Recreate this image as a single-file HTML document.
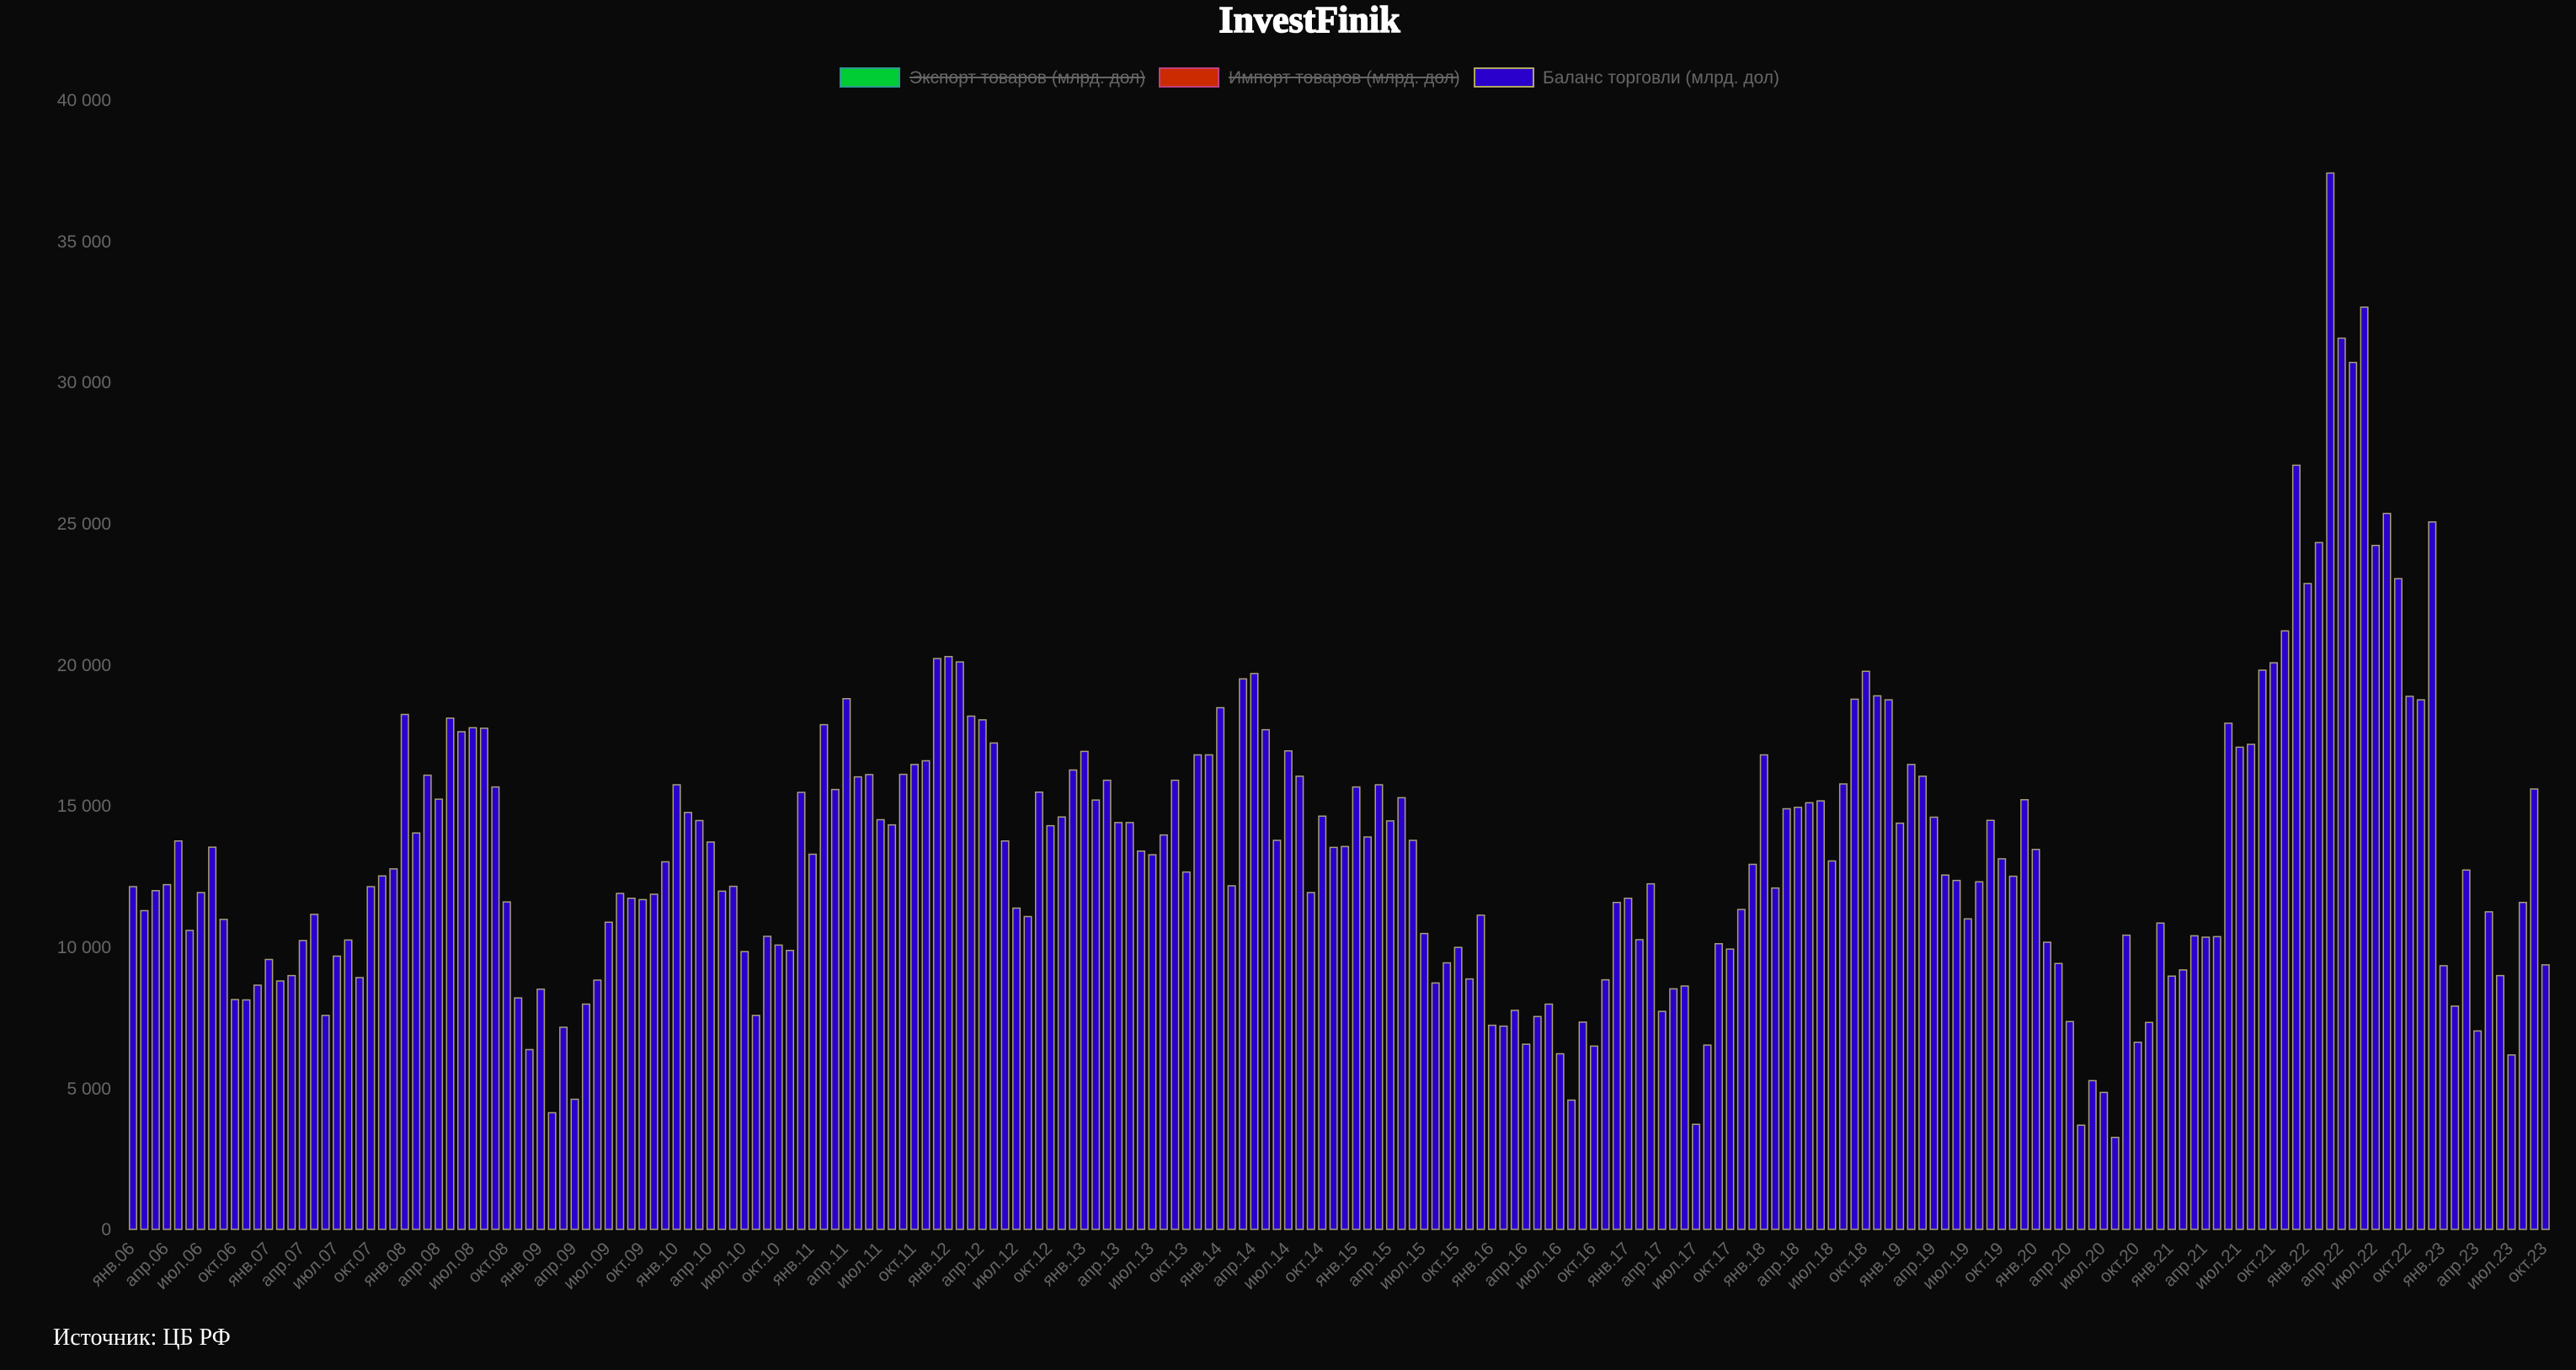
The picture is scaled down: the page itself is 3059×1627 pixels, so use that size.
<!DOCTYPE html>
<html><head><meta charset="utf-8"><style>
html,body{margin:0;padding:0;background:#0a0a0a;}
svg{display:block;}
#b rect{vector-effect:non-scaling-stroke;}
</style></head><body>
<svg width="3059" height="1627" viewBox="0 0 3059 1627" xmlns="http://www.w3.org/2000/svg">
<rect width="3059" height="1627" fill="#0a0a0a"/>
<text x="1555" y="38" text-anchor="middle" font-family="Liberation Serif, serif" font-weight="900" font-size="44" fill="#fff" stroke="#fff" stroke-width="1.5">InvestFinik</text>
<g font-family="Liberation Sans, sans-serif" font-size="21" fill="#666">
<rect x="998" y="81" width="70" height="22" fill="#00cc33" stroke="#2a9d8f" stroke-width="2"/>
<text x="1080" y="99">Экспорт товаров (млрд. дол)</text>
<line x1="1080" y1="92" x2="1360" y2="92" stroke="#666" stroke-width="2"/>
<rect x="1377" y="81" width="70" height="22" fill="#cc2a00" stroke="#c04080" stroke-width="2"/>
<text x="1459" y="99">Импорт товаров (млрд. дол)</text>
<line x1="1459" y1="92" x2="1732" y2="92" stroke="#666" stroke-width="2"/>
<rect x="1751" y="81" width="70" height="22" fill="#2a00cc" stroke="#b0a860" stroke-width="2"/>
<text x="1832" y="99">Баланс торговли (млрд. дол)</text>
</g>
<g font-family="Liberation Sans, sans-serif" font-size="21" fill="#666" text-anchor="end">
<text x="132" y="1467">0</text>
<text x="132" y="1300">5 000</text>
<text x="132" y="1132">10 000</text>
<text x="132" y="964">15 000</text>
<text x="132" y="797">20 000</text>
<text x="132" y="629">25 000</text>
<text x="132" y="461">30 000</text>
<text x="132" y="294">35 000</text>
<text x="132" y="126">40 000</text>
</g>
<g id="b" transform="translate(151.3,1460) scale(13.45,-33.525)" fill="#2a00cc" stroke="#a8a07a" stroke-width="1.5">
<rect x="0.18" width="0.63" height="12.14"/><rect x="1.18" width="0.63" height="11.29"/><rect x="2.18" width="0.63" height="12.0"/><rect x="3.18" width="0.63" height="12.21"/><rect x="4.18" width="0.63" height="13.76"/><rect x="5.18" width="0.63" height="10.59"/><rect x="6.18" width="0.63" height="11.93"/><rect x="7.18" width="0.63" height="13.54"/><rect x="8.18" width="0.63" height="10.98"/><rect x="9.18" width="0.63" height="8.14"/>
<rect x="10.18" width="0.63" height="8.13"/><rect x="11.18" width="0.63" height="8.65"/><rect x="12.18" width="0.63" height="9.56"/><rect x="13.18" width="0.63" height="8.8"/><rect x="14.18" width="0.63" height="8.99"/><rect x="15.18" width="0.63" height="10.23"/><rect x="16.18" width="0.63" height="11.16"/><rect x="17.18" width="0.63" height="7.58"/><rect x="18.18" width="0.63" height="9.68"/><rect x="19.18" width="0.63" height="10.25"/>
<rect x="20.18" width="0.63" height="8.92"/><rect x="21.18" width="0.63" height="12.14"/><rect x="22.18" width="0.63" height="12.52"/><rect x="23.18" width="0.63" height="12.77"/><rect x="24.18" width="0.63" height="18.24"/><rect x="25.18" width="0.63" height="14.04"/><rect x="26.18" width="0.63" height="16.09"/><rect x="27.18" width="0.63" height="15.24"/><rect x="28.18" width="0.63" height="18.11"/><rect x="29.18" width="0.63" height="17.63"/>
<rect x="30.18" width="0.63" height="17.77"/><rect x="31.18" width="0.63" height="17.75"/><rect x="32.18" width="0.63" height="15.67"/><rect x="33.18" width="0.63" height="11.6"/><rect x="34.18" width="0.63" height="8.2"/><rect x="35.18" width="0.63" height="6.37"/><rect x="36.18" width="0.63" height="8.51"/><rect x="37.18" width="0.63" height="4.13"/><rect x="38.18" width="0.63" height="7.16"/><rect x="39.18" width="0.63" height="4.61"/>
<rect x="40.18" width="0.63" height="7.98"/><rect x="41.18" width="0.63" height="8.83"/><rect x="42.18" width="0.63" height="10.88"/><rect x="43.18" width="0.63" height="11.9"/><rect x="44.18" width="0.63" height="11.73"/><rect x="45.18" width="0.63" height="11.68"/><rect x="46.18" width="0.63" height="11.87"/><rect x="47.18" width="0.63" height="13.02"/><rect x="48.18" width="0.63" height="15.75"/><rect x="49.18" width="0.63" height="14.77"/>
<rect x="50.18" width="0.63" height="14.48"/><rect x="51.18" width="0.63" height="13.72"/><rect x="52.18" width="0.63" height="11.98"/><rect x="53.18" width="0.63" height="12.15"/><rect x="54.18" width="0.63" height="9.84"/><rect x="55.18" width="0.63" height="7.58"/><rect x="56.18" width="0.63" height="10.38"/><rect x="57.18" width="0.63" height="10.07"/><rect x="58.18" width="0.63" height="9.88"/><rect x="59.18" width="0.63" height="15.48"/>
<rect x="60.18" width="0.63" height="13.29"/><rect x="61.18" width="0.63" height="17.88"/><rect x="62.18" width="0.63" height="15.58"/><rect x="63.18" width="0.63" height="18.8"/><rect x="64.18" width="0.63" height="16.03"/><rect x="65.18" width="0.63" height="16.11"/><rect x="66.18" width="0.63" height="14.51"/><rect x="67.18" width="0.63" height="14.33"/><rect x="68.18" width="0.63" height="16.12"/><rect x="69.18" width="0.63" height="16.47"/>
<rect x="70.18" width="0.63" height="16.6"/><rect x="71.18" width="0.63" height="20.22"/><rect x="72.18" width="0.63" height="20.29"/><rect x="73.18" width="0.63" height="20.1"/><rect x="74.18" width="0.63" height="18.18"/><rect x="75.18" width="0.63" height="18.05"/><rect x="76.18" width="0.63" height="17.23"/><rect x="77.18" width="0.63" height="13.76"/><rect x="78.18" width="0.63" height="11.38"/><rect x="79.18" width="0.63" height="11.08"/>
<rect x="80.18" width="0.63" height="15.49"/><rect x="81.18" width="0.63" height="14.3"/><rect x="82.18" width="0.63" height="14.61"/><rect x="83.18" width="0.63" height="16.27"/><rect x="84.18" width="0.63" height="16.93"/><rect x="85.18" width="0.63" height="15.21"/><rect x="86.18" width="0.63" height="15.91"/><rect x="87.18" width="0.63" height="14.41"/><rect x="88.18" width="0.63" height="14.41"/><rect x="89.18" width="0.63" height="13.4"/>
<rect x="90.18" width="0.63" height="13.27"/><rect x="91.18" width="0.63" height="13.97"/><rect x="92.18" width="0.63" height="15.91"/><rect x="93.18" width="0.63" height="12.66"/><rect x="94.18" width="0.63" height="16.81"/><rect x="95.18" width="0.63" height="16.81"/><rect x="96.18" width="0.63" height="18.48"/><rect x="97.18" width="0.63" height="12.17"/><rect x="98.18" width="0.63" height="19.5"/><rect x="99.18" width="0.63" height="19.69"/>
<rect x="100.18" width="0.63" height="17.7"/><rect x="101.18" width="0.63" height="13.78"/><rect x="102.18" width="0.63" height="16.95"/><rect x="103.18" width="0.63" height="16.05"/><rect x="104.18" width="0.63" height="11.93"/><rect x="105.18" width="0.63" height="14.64"/><rect x="106.18" width="0.63" height="13.53"/><rect x="107.18" width="0.63" height="13.56"/><rect x="108.18" width="0.63" height="15.67"/><rect x="109.18" width="0.63" height="13.9"/>
<rect x="110.18" width="0.63" height="15.75"/><rect x="111.18" width="0.63" height="14.47"/><rect x="112.18" width="0.63" height="15.29"/><rect x="113.18" width="0.63" height="13.78"/><rect x="114.18" width="0.63" height="10.48"/><rect x="115.18" width="0.63" height="8.73"/><rect x="116.18" width="0.63" height="9.44"/><rect x="117.18" width="0.63" height="9.99"/><rect x="118.18" width="0.63" height="8.87"/><rect x="119.18" width="0.63" height="11.13"/>
<rect x="120.18" width="0.63" height="7.23"/><rect x="121.18" width="0.63" height="7.2"/><rect x="122.18" width="0.63" height="7.76"/><rect x="123.18" width="0.63" height="6.56"/><rect x="124.18" width="0.63" height="7.54"/><rect x="125.18" width="0.63" height="7.98"/><rect x="126.18" width="0.63" height="6.22"/><rect x="127.18" width="0.63" height="4.58"/><rect x="128.18" width="0.63" height="7.34"/><rect x="129.18" width="0.63" height="6.49"/>
<rect x="130.18" width="0.63" height="8.84"/><rect x="131.18" width="0.63" height="11.58"/><rect x="132.18" width="0.63" height="11.73"/><rect x="133.18" width="0.63" height="10.26"/><rect x="134.18" width="0.63" height="12.24"/><rect x="135.18" width="0.63" height="7.72"/><rect x="136.18" width="0.63" height="8.52"/><rect x="137.18" width="0.63" height="8.62"/><rect x="138.18" width="0.63" height="3.72"/><rect x="139.18" width="0.63" height="6.53"/>
<rect x="140.18" width="0.63" height="10.12"/><rect x="141.18" width="0.63" height="9.93"/><rect x="142.18" width="0.63" height="11.33"/><rect x="143.18" width="0.63" height="12.93"/><rect x="144.18" width="0.63" height="16.81"/><rect x="145.18" width="0.63" height="12.09"/><rect x="146.18" width="0.63" height="14.9"/><rect x="147.18" width="0.63" height="14.95"/><rect x="148.18" width="0.63" height="15.11"/><rect x="149.18" width="0.63" height="15.18"/>
<rect x="150.18" width="0.63" height="13.05"/><rect x="151.18" width="0.63" height="15.78"/><rect x="152.18" width="0.63" height="18.78"/><rect x="153.18" width="0.63" height="19.77"/><rect x="154.18" width="0.63" height="18.9"/><rect x="155.18" width="0.63" height="18.76"/><rect x="156.18" width="0.63" height="14.39"/><rect x="157.18" width="0.63" height="16.47"/><rect x="158.18" width="0.63" height="16.05"/><rect x="159.18" width="0.63" height="14.6"/>
<rect x="160.18" width="0.63" height="12.55"/><rect x="161.18" width="0.63" height="12.36"/><rect x="162.18" width="0.63" height="11.0"/><rect x="163.18" width="0.63" height="12.31"/><rect x="164.18" width="0.63" height="14.49"/><rect x="165.18" width="0.63" height="13.13"/><rect x="166.18" width="0.63" height="12.51"/><rect x="167.18" width="0.63" height="15.22"/><rect x="168.18" width="0.63" height="13.46"/><rect x="169.18" width="0.63" height="10.17"/>
<rect x="170.18" width="0.63" height="9.42"/><rect x="171.18" width="0.63" height="7.36"/><rect x="172.18" width="0.63" height="3.69"/><rect x="173.18" width="0.63" height="5.27"/><rect x="174.18" width="0.63" height="4.85"/><rect x="175.18" width="0.63" height="3.26"/><rect x="176.18" width="0.63" height="10.42"/><rect x="177.18" width="0.63" height="6.63"/><rect x="178.18" width="0.63" height="7.33"/><rect x="179.18" width="0.63" height="10.85"/>
<rect x="180.18" width="0.63" height="8.97"/><rect x="181.18" width="0.63" height="9.19"/><rect x="182.18" width="0.63" height="10.4"/><rect x="183.18" width="0.63" height="10.35"/><rect x="184.18" width="0.63" height="10.37"/><rect x="185.18" width="0.63" height="17.93"/><rect x="186.18" width="0.63" height="17.08"/><rect x="187.18" width="0.63" height="17.18"/><rect x="188.18" width="0.63" height="19.81"/><rect x="189.18" width="0.63" height="20.07"/>
<rect x="190.18" width="0.63" height="21.2"/><rect x="191.18" width="0.63" height="27.07"/><rect x="192.18" width="0.63" height="22.88"/><rect x="193.18" width="0.63" height="24.33"/><rect x="194.18" width="0.63" height="37.42"/><rect x="195.18" width="0.63" height="31.57"/><rect x="196.18" width="0.63" height="30.71"/><rect x="197.18" width="0.63" height="32.67"/><rect x="198.18" width="0.63" height="24.23"/><rect x="199.18" width="0.63" height="25.36"/>
<rect x="200.18" width="0.63" height="23.05"/><rect x="201.18" width="0.63" height="18.88"/><rect x="202.18" width="0.63" height="18.76"/><rect x="203.18" width="0.63" height="25.06"/><rect x="204.18" width="0.63" height="9.34"/><rect x="205.18" width="0.63" height="7.91"/><rect x="206.18" width="0.63" height="12.73"/><rect x="207.18" width="0.63" height="7.03"/><rect x="208.18" width="0.63" height="11.25"/><rect x="209.18" width="0.63" height="8.99"/>
<rect x="210.18" width="0.63" height="6.18"/><rect x="211.18" width="0.63" height="11.58"/><rect x="212.18" width="0.63" height="15.6"/><rect x="213.18" width="0.63" height="9.37"/>
</g>
<g font-family="Liberation Sans, sans-serif" font-size="21" fill="#666" text-anchor="end">
<text transform="translate(161,1484) rotate(-45)">янв.06</text>
<text transform="translate(201.4,1484) rotate(-45)">апр.06</text>
<text transform="translate(241.7,1484) rotate(-45)">июл.06</text>
<text transform="translate(282.1,1484) rotate(-45)">окт.06</text>
<text transform="translate(322.4,1484) rotate(-45)">янв.07</text>
<text transform="translate(362.8,1484) rotate(-45)">апр.07</text>
<text transform="translate(403.1,1484) rotate(-45)">июл.07</text>
<text transform="translate(443.5,1484) rotate(-45)">окт.07</text>
<text transform="translate(483.8,1484) rotate(-45)">янв.08</text>
<text transform="translate(524.2,1484) rotate(-45)">апр.08</text>
<text transform="translate(564.5,1484) rotate(-45)">июл.08</text>
<text transform="translate(604.9,1484) rotate(-45)">окт.08</text>
<text transform="translate(645.2,1484) rotate(-45)">янв.09</text>
<text transform="translate(685.6,1484) rotate(-45)">апр.09</text>
<text transform="translate(725.9,1484) rotate(-45)">июл.09</text>
<text transform="translate(766.3,1484) rotate(-45)">окт.09</text>
<text transform="translate(806.6,1484) rotate(-45)">янв.10</text>
<text transform="translate(847,1484) rotate(-45)">апр.10</text>
<text transform="translate(887.3,1484) rotate(-45)">июл.10</text>
<text transform="translate(927.7,1484) rotate(-45)">окт.10</text>
<text transform="translate(968,1484) rotate(-45)">янв.11</text>
<text transform="translate(1008.4,1484) rotate(-45)">апр.11</text>
<text transform="translate(1048.7,1484) rotate(-45)">июл.11</text>
<text transform="translate(1089.1,1484) rotate(-45)">окт.11</text>
<text transform="translate(1129.4,1484) rotate(-45)">янв.12</text>
<text transform="translate(1169.8,1484) rotate(-45)">апр.12</text>
<text transform="translate(1210.1,1484) rotate(-45)">июл.12</text>
<text transform="translate(1250.5,1484) rotate(-45)">окт.12</text>
<text transform="translate(1290.8,1484) rotate(-45)">янв.13</text>
<text transform="translate(1331.2,1484) rotate(-45)">апр.13</text>
<text transform="translate(1371.5,1484) rotate(-45)">июл.13</text>
<text transform="translate(1411.9,1484) rotate(-45)">окт.13</text>
<text transform="translate(1452.2,1484) rotate(-45)">янв.14</text>
<text transform="translate(1492.6,1484) rotate(-45)">апр.14</text>
<text transform="translate(1532.9,1484) rotate(-45)">июл.14</text>
<text transform="translate(1573.3,1484) rotate(-45)">окт.14</text>
<text transform="translate(1613.6,1484) rotate(-45)">янв.15</text>
<text transform="translate(1654,1484) rotate(-45)">апр.15</text>
<text transform="translate(1694.3,1484) rotate(-45)">июл.15</text>
<text transform="translate(1734.7,1484) rotate(-45)">окт.15</text>
<text transform="translate(1775,1484) rotate(-45)">янв.16</text>
<text transform="translate(1815.4,1484) rotate(-45)">апр.16</text>
<text transform="translate(1855.7,1484) rotate(-45)">июл.16</text>
<text transform="translate(1896.1,1484) rotate(-45)">окт.16</text>
<text transform="translate(1936.4,1484) rotate(-45)">янв.17</text>
<text transform="translate(1976.8,1484) rotate(-45)">апр.17</text>
<text transform="translate(2017.1,1484) rotate(-45)">июл.17</text>
<text transform="translate(2057.5,1484) rotate(-45)">окт.17</text>
<text transform="translate(2097.8,1484) rotate(-45)">янв.18</text>
<text transform="translate(2138.2,1484) rotate(-45)">апр.18</text>
<text transform="translate(2178.5,1484) rotate(-45)">июл.18</text>
<text transform="translate(2218.9,1484) rotate(-45)">окт.18</text>
<text transform="translate(2259.2,1484) rotate(-45)">янв.19</text>
<text transform="translate(2299.6,1484) rotate(-45)">апр.19</text>
<text transform="translate(2339.9,1484) rotate(-45)">июл.19</text>
<text transform="translate(2380.3,1484) rotate(-45)">окт.19</text>
<text transform="translate(2420.6,1484) rotate(-45)">янв.20</text>
<text transform="translate(2461,1484) rotate(-45)">апр.20</text>
<text transform="translate(2501.3,1484) rotate(-45)">июл.20</text>
<text transform="translate(2541.7,1484) rotate(-45)">окт.20</text>
<text transform="translate(2582,1484) rotate(-45)">янв.21</text>
<text transform="translate(2622.4,1484) rotate(-45)">апр.21</text>
<text transform="translate(2662.7,1484) rotate(-45)">июл.21</text>
<text transform="translate(2703.1,1484) rotate(-45)">окт.21</text>
<text transform="translate(2743.4,1484) rotate(-45)">янв.22</text>
<text transform="translate(2783.8,1484) rotate(-45)">апр.22</text>
<text transform="translate(2824.1,1484) rotate(-45)">июл.22</text>
<text transform="translate(2864.5,1484) rotate(-45)">окт.22</text>
<text transform="translate(2904.8,1484) rotate(-45)">янв.23</text>
<text transform="translate(2945.2,1484) rotate(-45)">апр.23</text>
<text transform="translate(2985.5,1484) rotate(-45)">июл.23</text>
<text transform="translate(3025.9,1484) rotate(-45)">окт.23</text>
</g>
<text x="63" y="1597" font-family="Liberation Serif, serif" font-size="28" fill="#fff">Источник: ЦБ РФ</text>
</svg>
</body></html>
